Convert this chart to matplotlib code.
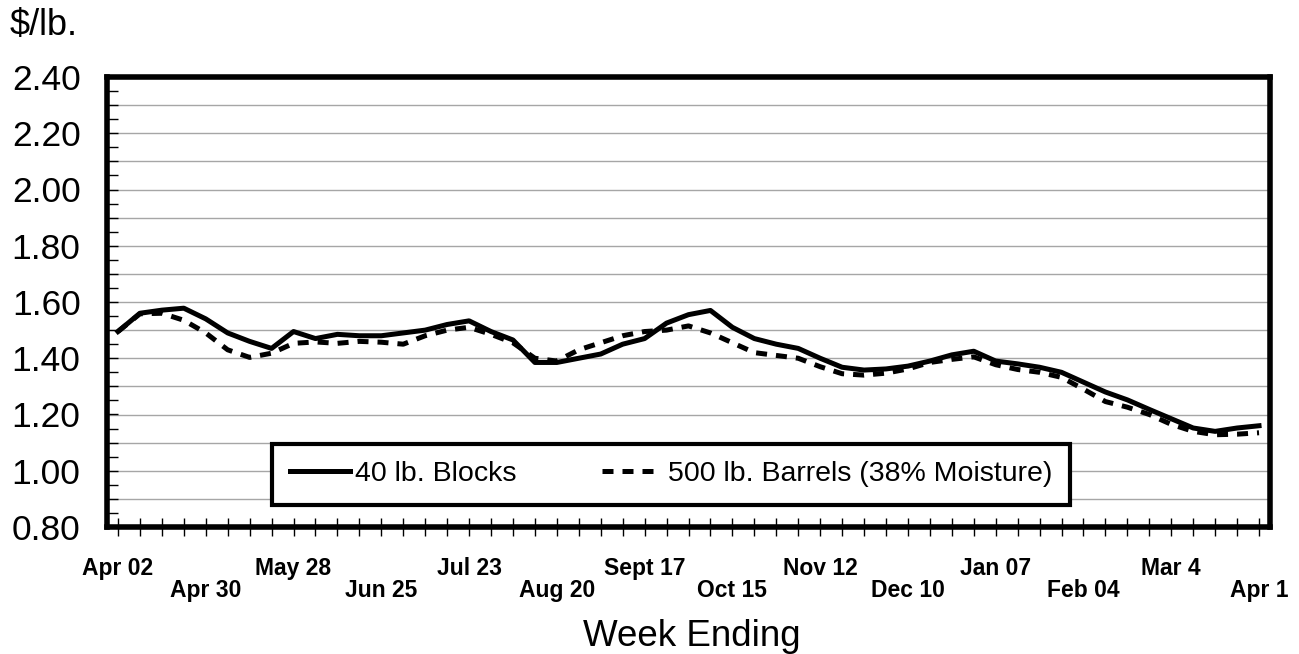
import matplotlib
matplotlib.use("Agg")
import matplotlib.pyplot as plt
import numpy as np
from matplotlib.ticker import MultipleLocator, FormatStrFormatter

# weekly cheese prices, week ending Apr 02 through Apr 1 of the next year
weeks = list(range(53))
tick_labels = ["Apr 02", "Apr 30", "May 28", "Jun 25", "Jul 23", "Aug 20", "Sept 17",
               "Oct 15", "Nov 12", "Dec 10", "Jan 07", "Feb 04", "Mar 4", "Apr 1"]
blocks = [1.495, 1.560, 1.571, 1.578, 1.540, 1.490, 1.460, 1.435, 1.495, 1.470,
          1.485, 1.480, 1.480, 1.490, 1.500, 1.520, 1.533, 1.495, 1.465, 1.385,
          1.385, 1.400, 1.415, 1.450, 1.470, 1.525, 1.555, 1.570, 1.510, 1.470,
          1.450, 1.435, 1.400, 1.368, 1.358, 1.362, 1.372, 1.390, 1.412, 1.425,
          1.390, 1.380, 1.368, 1.350, 1.315, 1.280, 1.252, 1.218, 1.185, 1.152,
          1.140, 1.152, 1.160]
barrels = [1.495, 1.558, 1.560, 1.535, 1.490, 1.430, 1.403, 1.418, 1.453, 1.458,
           1.453, 1.460, 1.457, 1.450, 1.480, 1.500, 1.510, 1.485, 1.455, 1.400,
           1.390, 1.430, 1.455, 1.480, 1.495, 1.500, 1.515, 1.490, 1.455, 1.420,
           1.410, 1.400, 1.370, 1.345, 1.340, 1.347, 1.362, 1.385, 1.396, 1.405,
           1.377, 1.360, 1.350, 1.332, 1.290, 1.246, 1.226, 1.200, 1.165, 1.140,
           1.128, 1.130, 1.135]

plt.rcParams["font.family"] = ["Liberation Sans", "DejaVu Sans"]

fig = plt.figure(figsize=(12.99, 6.54), dpi=100)
ax = fig.add_axes([107 / 1299, 1 - 527 / 654, 1163 / 1299, 450 / 654])

for level in np.arange(0.9, 2.35, 0.1):
    ax.axhline(level, color="#a6a6a6", linewidth=1.0, zorder=0)

ax.plot(weeks, blocks, color="black", linewidth=3.6, label="40 lb. Blocks")
ax.plot(weeks, barrels, color="black", linewidth=3.6, linestyle=(0, (2.2, 1.8)),
        label="500 lb. Barrels (38% Moisture)")

ax.set_xlim(-0.5, 52.5)
ax.set_ylim(0.8, 2.4)

ax.set_xticks(range(0, 53, 4))
ax.set_xticklabels([lab if i % 2 == 0 else "\n" + lab for i, lab in enumerate(tick_labels)])
ax.xaxis.set_minor_locator(MultipleLocator(1))
ax.tick_params(axis="x", which="both", direction="inout", length=13, width=1)
ax.tick_params(axis="x", which="major", labelsize=16.5, pad=15)
for lbl in ax.get_xticklabels():
    lbl.set_fontweight("bold")
    lbl.set_linespacing(0.93)

ax.yaxis.set_major_locator(MultipleLocator(0.2))
ax.yaxis.set_minor_locator(MultipleLocator(0.05))
ax.yaxis.set_major_formatter(FormatStrFormatter("%.2f"))
ax.tick_params(axis="y", which="both", direction="in", length=8, width=1)
ax.tick_params(axis="y", which="major", labelsize=25.5, pad=19)

for side in ax.spines.values():
    side.set_linewidth(4)

leg = ax.legend(loc="lower left", bbox_to_anchor=(0.142, 0.049, 0.686, 0.131),
                mode="expand", ncol=2, fontsize=20.5, handlelength=2.1,
                handletextpad=0.2, fancybox=False, edgecolor="black",
                framealpha=1, borderpad=0.62, borderaxespad=0)
leg.get_frame().set_linewidth(3)

fig.text(10 / 1299, 1 - 35 / 654, r"\$/lb.", fontsize=26, va="baseline")
fig.text(692 / 1299, 1 - 646 / 654, "Week Ending", fontsize=26.5, ha="center", va="baseline")

fig.savefig("out.png", dpi=100)
